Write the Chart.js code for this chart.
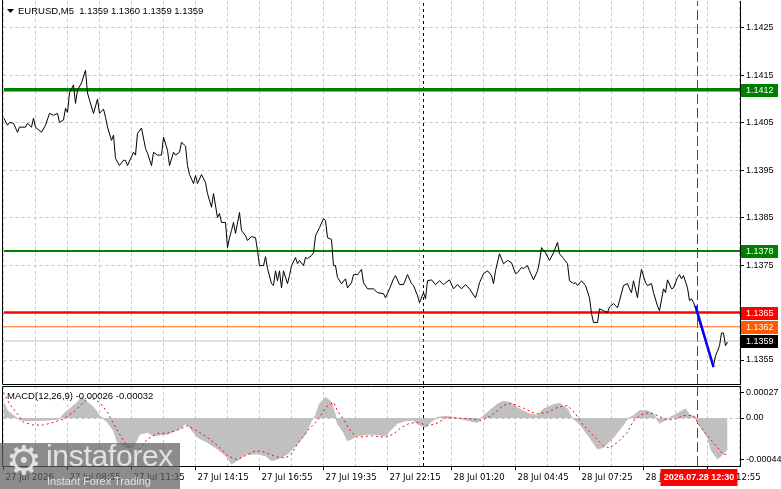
<!DOCTYPE html>
<html>
<head>
<meta charset="utf-8">
<script src="https://cdn.jsdelivr.net/npm/chart.js@4.4.0/dist/chart.umd.min.js"></script>
<style>
html, body { margin: 0; padding: 0; background: #fff; overflow: hidden; }
#wrap { position: relative; width: 781px; height: 489px; }
#main { position: absolute; left: 0; top: 0; }
#macd { position: absolute; left: 0; top: 384px; }
#wm { position: absolute; left: 0; top: 443px; width: 180px; height: 46px; background: rgba(95,95,95,0.72); overflow: hidden; }
#wm .gear { position: absolute; left: 6px; top: -6px; font: 40px 'DejaVu Sans'; color: rgba(235,235,235,0.9); }
#wm .big { position: absolute; left: 46px; top: -4px; font: 30px 'Liberation Sans'; color: rgba(235,235,235,0.9); letter-spacing: -0.3px; }
#wm .small { position: absolute; left: 47px; top: 32px; font: 11px 'Liberation Sans'; color: rgba(235,235,235,0.9); }
</style>
</head>
<body>
<div id="wrap">
  <canvas id="main" width="781" height="386" style="width:781px;height:386px"></canvas>
  <canvas id="macd" width="781" height="105" style="width:781px;height:105px"></canvas>
  <div id="wm"><span class="gear">&#9881;</span><span class="big">instaforex</span><span class="small">Instant Forex Trading</span></div>
</div>
<script>
// EURUSD M5, bar number -> close
const barIdx = [
  0, 2, 3, 5, 7, 8, 11, 12, 14, 15,
  16, 19, 21, 23, 25, 27, 28, 30, 31, 32,
  33, 35, 36, 37, 39, 41, 42, 43, 45, 47,
  48, 50, 51, 52, 54, 55, 56, 58, 60, 61,
  62, 65, 66, 67, 69, 71, 72, 74, 75, 77,
  79, 80, 82, 83, 85, 86, 88, 89, 91, 92,
  93, 95, 96, 97, 99, 101, 102, 104, 105, 107,
  108, 109, 111, 112, 113, 114, 115, 116, 118, 119,
  121, 122, 124, 126, 127, 128, 130, 131, 132, 134,
  135, 136, 137, 138, 139, 140, 142, 143, 144, 146,
  147, 148, 150, 151, 152, 154, 155, 156, 158, 160,
  161, 162, 164, 165, 166, 167, 169, 171, 172, 174,
  175, 177, 179, 180, 182, 185, 187, 190, 191, 193,
  195, 196, 198, 200, 202, 204, 205, 207, 208, 210,
  211, 212, 214, 216, 218, 220, 223, 225, 227, 229,
  231, 233, 236, 237, 238, 240, 242, 244, 245, 246,
  248, 250, 252, 254, 256, 257, 259, 260, 262, 263,
  265, 267, 268, 269, 271, 273, 275, 277, 278, 280,
  282, 283, 285, 286, 287, 289, 291, 293, 294, 295,
  297, 298, 300, 302, 303, 305, 307, 308, 310, 312,
  313, 314, 315, 317, 318, 319, 321, 322, 324, 325,
  327, 328, 330, 331, 332, 334, 335, 337, 338, 339,
  340, 342, 343, 344, 345, 346, 348, 351, 353, 355,
  356, 357, 358, 359, 360, 361, 362
];
const close = [
  1.14061, 1.14045, 1.14051, 1.14049, 1.14030, 1.14041, 1.14041, 1.14049, 1.14041, 1.14060,
  1.14041, 1.14030, 1.14045, 1.14070, 1.14066, 1.14070, 1.14051, 1.14056, 1.14081, 1.14072,
  1.14113, 1.14130, 1.14091, 1.14119, 1.14134, 1.14161, 1.14113, 1.14098, 1.14070, 1.14100,
  1.14070, 1.14079, 1.14062, 1.14041, 1.14013, 1.14024, 1.13975, 1.13960, 1.13971, 1.13971,
  1.13960, 1.13988, 1.13982, 1.14028, 1.14039, 1.13996, 1.13986, 1.13960, 1.13988, 1.13982,
  1.13982, 1.14020, 1.13992, 1.13960, 1.13988, 1.13982, 1.13988, 1.14009, 1.14001, 1.13960,
  1.13941, 1.13922, 1.13939, 1.13922, 1.13941, 1.13924, 1.13901, 1.13872, 1.13901, 1.13850,
  1.13859, 1.13840, 1.13840, 1.13787, 1.13808, 1.13823, 1.13840, 1.13817, 1.13861, 1.13823,
  1.13812, 1.13802, 1.13810, 1.13808, 1.13781, 1.13749, 1.13749, 1.13768, 1.13743, 1.13711,
  1.13707, 1.13738, 1.13717, 1.13738, 1.13702, 1.13738, 1.13711, 1.13728, 1.13749, 1.13766,
  1.13753, 1.13760, 1.13749, 1.13766, 1.13764, 1.13770, 1.13776, 1.13812, 1.13829, 1.13848,
  1.13844, 1.13808, 1.13804, 1.13749, 1.13749, 1.13724, 1.13711, 1.13721, 1.13702, 1.13713,
  1.13730, 1.13730, 1.13741, 1.13713, 1.13700, 1.13700, 1.13692, 1.13690, 1.13681, 1.13700,
  1.13721, 1.13728, 1.13709, 1.13709, 1.13730, 1.13711, 1.13707, 1.13686, 1.13671, 1.13692,
  1.13679, 1.13717, 1.13719, 1.13709, 1.13717, 1.13709, 1.13719, 1.13700, 1.13709, 1.13700,
  1.13709, 1.13700, 1.13681, 1.13696, 1.13713, 1.13732, 1.13738, 1.13728, 1.13711, 1.13738,
  1.13774, 1.13753, 1.13760, 1.13755, 1.13732, 1.13734, 1.13745, 1.13743, 1.13749, 1.13738,
  1.13719, 1.13738, 1.13757, 1.13787, 1.13776, 1.13760, 1.13776, 1.13798, 1.13774, 1.13764,
  1.13753, 1.13717, 1.13711, 1.13713, 1.13707, 1.13717, 1.13707, 1.13681, 1.13648, 1.13629,
  1.13629, 1.13658, 1.13654, 1.13650, 1.13662, 1.13669, 1.13660, 1.13675, 1.13707, 1.13711,
  1.13700, 1.13692, 1.13717, 1.13681, 1.13717, 1.13741, 1.13713, 1.13707, 1.13711, 1.13692,
  1.13664, 1.13654, 1.13700, 1.13692, 1.13719, 1.13700, 1.13702, 1.13724, 1.13730, 1.13721,
  1.13728, 1.13702, 1.13675, 1.13679, 1.13671, 1.13660, 1.13629, 1.13590, 1.13565, 1.13538,
  1.13559, 1.13569, 1.13580, 1.13607, 1.13607, 1.13580, 1.13588
];

// blue trend line
const trendBars = [346, 355];
const trendVals = [1.13664, 1.13535];

// horizontal levels: two supports/resistances, signal, entry, bid
const levelVals = [1.1412, 1.1378, 1.1365, 1.1362, 1.1359];
// vertical markers (bar numbers): session start, current time
const markerBars = [210, 347];

// MACD(12,26,9)
const histBar = [
  0, 2, 5, 8, 13, 23, 28, 30, 33, 37,
  39, 42, 45, 48, 52, 55, 57, 61, 65, 68,
  72, 75, 82, 88, 91, 93, 97, 102, 107, 112,
  114, 118, 121, 127, 131, 134, 137, 142, 147, 151,
  154, 156, 158, 161, 164, 166, 167, 170, 172, 174,
  177, 184, 191, 194, 197, 201, 205, 207, 211, 214,
  217, 221, 227, 234, 237, 240, 243, 247, 250, 253,
  258, 263, 267, 270, 275, 278, 282, 284, 287, 290,
  293, 297, 300, 305, 309, 312, 315, 318, 322, 325,
  328, 332, 335, 338, 341, 343, 346, 348, 352, 354,
  357, 359, 362
];
const histVal = [
  0.000165, 0.000077, 0.000025, -0.000021, -0.000028, -0.000021, -0.00001, 0.000042, 0.000095, 0.000165,
  0.000217, 0.000165, 0.000112, 0.000025, -0.000046, -0.000133, -0.000256, -0.000308, -0.000308, -0.000168,
  -0.000151, -0.000186, -0.000168, -0.000116, -0.000063, -0.000098, -0.000203, -0.000256, -0.000326, -0.000413,
  -0.000483, -0.000431, -0.00038, -0.000378, -0.000396, -0.000448, -0.000431, -0.000378, -0.000273, -0.000168,
  -0.000028, 0.000025, 0.000147, 0.000217, 0.000165, 0.000025, -0.000063, -0.000151, -0.000238, -0.000221,
  -0.000186, -0.000168, -0.000186, -0.000116, -0.000056, -0.000028, -0.000021, -0.000063, -0.000098, -0.000035,
  0.000007, 0.000018, 0, -0.000035, -0.000046, 0.000025, 0.000077, 0.000147, 0.000175, 0.000165,
  0.000095, 0.000042, 0.000025, 0.000095, 0.00014, 0.000154, 0.000095, 0.000007, -0.000046, -0.000116,
  -0.000203, -0.000326, -0.000308, -0.000203, -0.000098, -0.00001, 0.000025, 0.000077, 0.000077, 0.000042,
  -0.000056, -0.00001, 0.000025, 0.00006, 0.000095, 0.000035, 0.000007, -0.00008, -0.000203, -0.000343,
  -0.000431, -0.000396, -0.000326
];
const sigBar = [
  0, 3, 7, 10, 15, 20, 25, 30, 35, 40,
  43, 48, 52, 56, 60, 64, 68, 72, 77, 82,
  87, 92, 98, 103, 108, 112, 117, 122, 126, 131,
  136, 141, 144, 147, 152, 157, 161, 165, 167, 171,
  174, 177, 184, 191, 195, 199, 203, 207, 212, 216,
  221, 226, 234, 239, 244, 250, 254, 260, 266, 272,
  277, 282, 286, 290, 295, 300, 303, 307, 312, 315,
  319, 323, 327, 332, 336, 340, 345, 348, 352, 357,
  360, 362
];
const sigVal = [
  0.00027, 0.000147, 0.000042, -0.000046, -0.000074, -0.000074, -0.000046, -0.00001, 0.00006, 0.000165,
  0.000217, 0.000165, 0.00006, -0.000098, -0.000238, -0.00036, -0.000326, -0.00022, -0.000161, -0.000161,
  -0.000126, -0.000081, -0.000151, -0.00022, -0.000308, -0.000396, -0.000438, -0.000385, -0.000343, -0.00036,
  -0.000406, -0.00042, -0.000378, -0.000273, -0.000133, -0.000028, 0.000112, 0.000165, 0.000077, -0.000046,
  -0.000151, -0.000203, -0.000186, -0.000203, -0.000168, -0.000098, -0.000056, -0.000046, -0.00008, -0.000063,
  0, 0, -0.00001, -0.000028, 0.000025, 0.000133, 0.000154, 0.000105, 0.000042, 0.00006,
  0.000112, 0.000133, 0.000042, -0.00008, -0.000186, -0.000291, -0.000315, -0.000256, -0.000151, -0.000028,
  0.000035, 0.00006, 0.000025, -0.000021, -0.00001, 0.000025, 0.000025, -0.00008, -0.000186, -0.000308,
  -0.000385, -0.000378
];

// axis labels
const priceTicks = [1.1355, 1.1365, 1.1375, 1.1385, 1.1395, 1.1405, 1.1415, 1.1425];
const macdTicks = [-0.00044, 0, 0.00027];
const timeLabels = ["27 Jul 2026", "27 Jul 08:55", "27 Jul 11:35", "27 Jul 14:15", "27 Jul 16:55",
  "27 Jul 19:35", "27 Jul 22:15", "28 Jul 01:20", "28 Jul 04:45", "28 Jul 07:25", "28 Jul 10:05", "28 Jul 12:55"];
const nowLabel = "2026.07.28 12:30";
const titleText = "EURUSD,M5  1.1359 1.1360 1.1359 1.1359";
const macdText = "MACD(12,26,9) -0.00026 -0.00032";

Chart.defaults.font.family = "'Liberation Sans', Arial, sans-serif";
Chart.defaults.font.size = 9;
Chart.defaults.color = '#000';

const X_MAX = 368.25;
const P_MIN = 1.134994, P_MAX = 1.143069;
const M_MIN = -0.000504, M_MAX = 0.000336;

const gridBars = [];
for (let b = 0; b <= 368; b += 16) gridBars.push(b);

const levelColors = ['#008000', '#008000', '#ff0000', '#ff5a00', '#000000'];
const levelLine = [
  { color: '#008000', width: 3.5 },
  { color: '#008000', width: 2 },
  { color: '#ff0000', width: 2.5 },
  { color: '#ff6a10', width: 1 },
  { color: '#c0c0c0', width: 1 }
];

const pts = (xs, ys) => xs.map((x, i) => ({ x: x, y: ys[i] }));

// y axes: fixed width, no extra label padding above/below the plot
const fitY = s => { s.width = 41; s.paddingTop = 0; s.paddingBottom = 0; };

const datasets = [];
datasets.push({ data: pts(trendBars, trendVals), borderColor: '#0000ff', borderWidth: 2.5, order: 0 });
datasets.push({ data: pts(barIdx, close), borderColor: '#000', borderWidth: 1, order: 1 });
levelVals.forEach((v, i) => {
  datasets.push({ data: [{ x: 0, y: v }, { x: X_MAX, y: v }], borderColor: levelLine[i].color,
    borderWidth: levelLine[i].width, order: 3 });
});
datasets.push({ data: [{ x: markerBars[0], y: P_MIN }, { x: markerBars[0], y: P_MAX }],
  borderColor: '#000', borderWidth: 1, borderDash: [3, 3], order: 4 });
datasets.push({ data: [{ x: markerBars[1], y: P_MIN }, { x: markerBars[1], y: P_MAX }],
  borderColor: '#ff0000', borderWidth: 1, borderDash: [10, 4], order: 4 });

const mainDeco = {
  id: 'mainDeco',
  afterDraw(chart) {
    const c = chart.ctx, a = chart.chartArea, ys = chart.scales.y;
    c.save();
    c.strokeStyle = '#000';
    c.lineWidth = 1;
    c.beginPath();
    c.moveTo(2.5, 0); c.lineTo(2.5, 384.5);
    c.lineTo(a.right, 384.5);
    c.stroke();
    // title
    c.fillStyle = '#000';
    c.beginPath();
    c.moveTo(7, 9); c.lineTo(14, 9); c.lineTo(10.5, 13); c.closePath(); c.fill();
    c.font = "9.5px 'Liberation Sans'";
    c.textBaseline = 'middle';
    c.fillText(titleText, 18, 11);
    // price badges
    c.font = "9px 'Liberation Sans'";
    levelVals.forEach((v, i) => {
      const y = Math.round(ys.getPixelForValue(v));
      c.fillStyle = levelColors[i];
      c.fillRect(a.right + 1, y - 6, 37, 13);
      c.fillStyle = '#fff';
      c.fillText(v.toFixed(4), a.right + 6, y + 0.5);
    });
    c.restore();
  }
};

new Chart(document.getElementById('main'), {
  type: 'line',
  data: { datasets: datasets },
  options: {
    responsive: false, animation: false, devicePixelRatio: 1,
    layout: { padding: { left: 3.5, top: 1, right: 0, bottom: 2 } },
    elements: { point: { radius: 0 }, line: { tension: 0, fill: false } },
    plugins: { legend: { display: false }, tooltip: { enabled: false } },
    scales: {
      x: {
        type: 'linear', min: 0, max: X_MAX,
        afterBuildTicks: s => { s.ticks = gridBars.map(v => ({ value: v })); },
        afterFit: s => { s.height = 0; s.paddingLeft = 0; s.paddingRight = 0; },
        ticks: { display: false },
        grid: { color: '#c8c8c8', drawTicks: false },
        border: { display: false, dash: [3, 3] }
      },
      y: {
        position: 'right', min: P_MIN, max: P_MAX,
        afterBuildTicks: s => { s.ticks = priceTicks.map(v => ({ value: v })); },
        afterFit: fitY,
        ticks: { padding: 2, callback: v => v.toFixed(4), font: { size: 9 } },
        grid: { color: '#c8c8c8', tickColor: '#000', tickLength: 4, tickBorderDash: [] },
        border: { display: true, color: '#000', dash: [3, 3] }
      }
    }
  },
  plugins: [mainDeco]
});

const macdDeco = {
  id: 'macdDeco',
  afterDraw(chart) {
    const c = chart.ctx, a = chart.chartArea, xs = chart.scales.x;
    c.save();
    c.strokeStyle = '#000';
    c.lineWidth = 1;
    c.beginPath();
    c.moveTo(a.right, a.top + 0.5); c.lineTo(2.5, a.top + 0.5);
    c.lineTo(2.5, a.bottom + 0.5); c.lineTo(a.right, a.bottom + 0.5);
    c.stroke();
    c.fillStyle = '#000';
    c.font = "9.5px 'Liberation Sans'";
    c.textBaseline = 'middle';
    c.fillText(macdText, 7, 12);
    // current time box on the time axis
    const x = xs.getPixelForValue(markerBars[1]);
    c.fillStyle = '#ff0000';
    c.fillRect(x - 37, a.bottom + 3, 77, 17);
    c.fillStyle = '#fff';
    c.font = "bold 9px 'Liberation Sans'";
    c.textAlign = 'center';
    c.fillText(nowLabel, x + 1.5, a.bottom + 12);
    c.restore();
  }
};

new Chart(document.getElementById('macd'), {
  type: 'line',
  data: {
    datasets: [
      { data: pts(sigBar, sigVal), borderColor: '#ff0000', borderWidth: 1, borderDash: [2, 3], order: 0 },
      { data: pts(histBar, histVal), borderColor: '#c0c0c0', borderWidth: 1, backgroundColor: '#c0c0c0',
        fill: 'origin', order: 1 },
      { data: [{ x: markerBars[0], y: M_MIN }, { x: markerBars[0], y: M_MAX }],
        borderColor: '#000', borderWidth: 1, borderDash: [3, 3], order: 2 },
      { data: [{ x: markerBars[1], y: M_MIN }, { x: markerBars[1], y: M_MAX }],
        borderColor: '#ff0000', borderWidth: 1, borderDash: [10, 4], order: 2 }
    ]
  },
  options: {
    responsive: false, animation: false, devicePixelRatio: 1,
    layout: { padding: { left: 3.5, top: 2, right: 0, bottom: 0 } },
    elements: { point: { radius: 0 }, line: { tension: 0 } },
    plugins: { legend: { display: false }, tooltip: { enabled: false } },
    scales: {
      x: {
        type: 'linear', min: 0, max: X_MAX,
        afterBuildTicks: s => { s.ticks = gridBars.map(v => ({ value: v })); },
        afterFit: s => { s.height = 23; s.paddingLeft = 0; s.paddingRight = 0; },
        ticks: {
          autoSkip: false, maxRotation: 0, align: 'start', labelOffset: 2, padding: 2,
          font: { family: "'Liberation Sans Narrow', 'DejaVu Sans Condensed', 'Liberation Sans'", size: 9.5 },
          callback: v => (v % 32 === 0 ? timeLabels[v / 32] : '')
        },
        grid: {
          color: '#c8c8c8', tickLength: 4, tickBorderDash: [],
          tickColor: ctx => (ctx.tick && ctx.tick.value % 32 === 0 ? '#000' : 'rgba(0,0,0,0)')
        },
        border: { display: false, dash: [3, 3] }
      },
      y: {
        position: 'right', min: M_MIN, max: M_MAX,
        afterBuildTicks: s => { s.ticks = macdTicks.map(v => ({ value: v })); },
        afterFit: fitY,
        ticks: { padding: 2, callback: v => (v === 0 ? '0.00' : v.toFixed(5)) },
        grid: {
          color: ctx => (ctx.tick && ctx.tick.value === 0 ? '#c0c0c0' : 'rgba(0,0,0,0)'),
          tickColor: '#000', tickLength: 4, tickBorderDash: []
        },
        border: { display: true, color: '#000', dash: [3, 3] }
      }
    }
  },
  plugins: [macdDeco]
});
</script>
</body>
</html>
